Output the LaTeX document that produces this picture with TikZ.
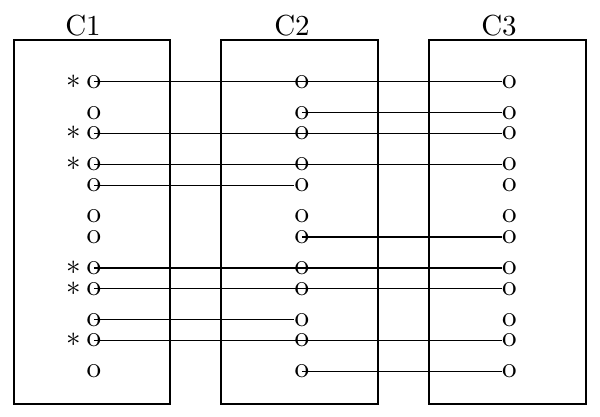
\documentclass[tikz,border=0pt]{standalone}
\usepackage{amsmath}
\tikzset{box/.style={draw=black, line width=0.45pt},
    port/.style={inner sep=0pt},
    flag/.style={inner sep=0pt, anchor=base},
    title/.style={inner sep=0pt, anchor=base},
    wire/.style={draw=black, line width=0.45pt}}

\begin{document}
\begin{tikzpicture}[x=0.1212mm, y=-0.1212mm]
    \useasboundingbox (0,0) rectangle (600,417);
    % Definition of the three columns
    \draw[box] (14,40) rectangle (170,404);
    \draw[box] (221,40) rectangle (378,404);
    \draw[box] (429,40) rectangle (586,404);
    \node[title] (t1) at (83,36) {C1};
    \node[title] (t2) at (292,36) {C2};
    \node[title] (t3) at (499,36) {C3};
    %
    \foreach \r/\u in {1/0,2/3,3/5,4/8,5/10,6/13,7/15,8/18,9/20,10/23,11/25,12/28} {
        \node[port] (a\r) at (94,81.7+10.35*\u) {o};
        \node[port] (b\r) at (302,81.7+10.35*\u) {o};
        \node[port] (c\r) at (509.5,81.7+10.35*\u) {o};
    }
    \foreach \r in {1,3,4,8,9,11}
        \node[flag] (s\r) at (73.5,0 |- a\r.base) {$*$};
    % connections
    \foreach \r in {1,3,4,8,9,11}
        \draw[wire] (a\r.center) -- (c\r.west);
    \foreach \r in {5,10}
        \draw[wire] (a\r.center) -- (b\r.west);
    \foreach \r in {2,7,12}
        \draw[wire] (b\r.center) -- (c\r.west);
\end{tikzpicture}
\end{document}
